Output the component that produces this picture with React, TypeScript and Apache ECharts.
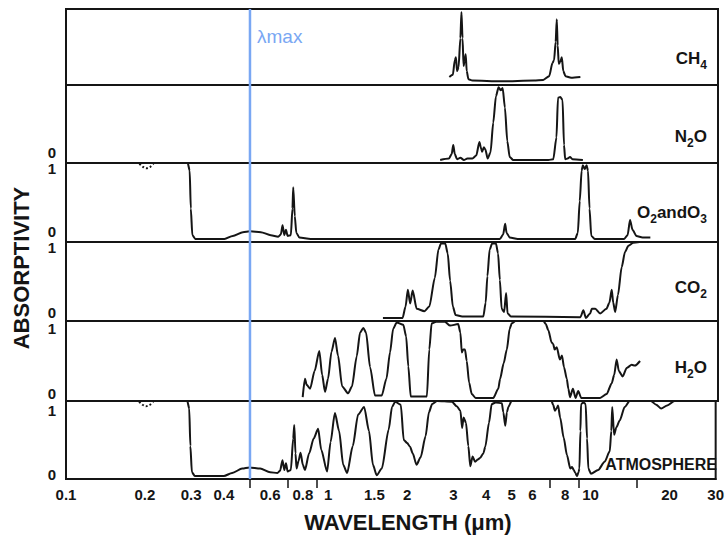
import { useEffect, useRef } from 'react';
import * as echarts from 'echarts';

// ---------- data (wavelength in µm, absorptivity 0..1) ----------
const X_MIN = 0.1;
const X_MAX = 30;
const LAMBDA_MAX = 0.5;
const TICK_LABELS = [0.1, 0.2, 0.3, 0.4, 0.6, 0.8, 1, 1.5, 2, 3, 4, 5, 6, 8, 10, 20, 30];
const MINOR_TICKS = [0.5, 0.7, 0.9, 7, 9, 15];
const Y_TICKS = ['0', '1'];

const CH4 = [
  [2.86, 0.07], [2.95, 0.1], [3.0, 0.3], [3.03, 0.34], [3.06, 0.15], [3.1, 0.2], [3.15, 0.6], [3.18, 0.96],
  [3.21, 0.6], [3.24, 0.22], [3.27, 0.3], [3.3, 0.38], [3.33, 0.15], [3.38, 0.04], [3.5, 0.02], [4.5, 0.01],
  [6.0, 0.02], [6.5, 0.03], [6.85, 0.08], [7.05, 0.26], [7.15, 0.3], [7.25, 0.55], [7.32, 0.86], [7.38, 0.5],
  [7.45, 0.25], [7.55, 0.28], [7.65, 0.34], [7.75, 0.15], [7.9, 0.08], [8.3, 0.06], [9.0, 0.07],
];
const N2O = [
  [2.64, 0.0], [2.85, 0.02], [2.92, 0.08], [2.96, 0.2], [3.0, 0.08], [3.06, 0.01], [3.15, 0.03], [3.25, 0.0],
  [3.35, 0.02], [3.5, 0.02], [3.62, 0.06], [3.72, 0.24], [3.78, 0.15], [3.81, 0.11], [3.87, 0.17], [3.92, 0.14],
  [4.0, 0.02], [4.1, 0.1], [4.2, 0.5], [4.3, 0.85], [4.4, 0.97], [4.48, 0.93], [4.56, 0.96], [4.65, 0.7],
  [4.75, 0.25], [4.85, 0.04], [5.0, 0.0], [6.8, 0.0], [7.1, 0.01], [7.3, 0.3], [7.4, 0.83], [7.55, 0.84],
  [7.7, 0.8], [7.8, 0.2], [7.88, 0.01], [8.05, 0.02], [8.22, 0.04], [8.4, 0.01], [9.2, 0.0],
];
const O2O3 = [
  [0.1, 1], [0.29, 1], [0.295, 0.9], [0.298, 0.4], [0.302, 0.05], [0.31, 0], [0.4, 0.0], [0.43, 0.04],
  [0.47, 0.09], [0.5, 0.1], [0.55, 0.09], [0.6, 0.05], [0.64, 0.03], [0.655, 0.06], [0.665, 0.18], [0.675, 0.05],
  [0.685, 0.12], [0.695, 0.04], [0.715, 0.05], [0.725, 0.4], [0.73, 0.68], [0.74, 0.3], [0.75, 0.08], [0.77, 0.02],
  [0.85, 0.0], [4.45, 0.0], [4.58, 0.06], [4.66, 0.2], [4.72, 0.08], [4.85, 0.02], [5.2, 0.0], [8.6, 0.0],
  [8.8, 0.08], [8.95, 0.5], [9.1, 0.9], [9.2, 0.97], [9.35, 0.92], [9.5, 0.97], [9.62, 0.9], [9.75, 0.4],
  [9.9, 0.04], [10.2, 0.0], [13.2, 0.0], [13.6, 0.05], [13.9, 0.25], [14.2, 0.12], [14.7, 0.04], [15.5, 0.02],
  [16.6, 0.02],
];
const CO2 = [
  [1.6, 0.0], [1.9, 0.0], [1.95, 0.15], [1.99, 0.37], [2.03, 0.19], [2.075, 0.36], [2.15, 0.12], [2.3, 0.09],
  [2.4, 0.15], [2.52, 0.53], [2.6, 0.9], [2.66, 0.98], [2.76, 0.98], [2.82, 0.85], [2.88, 0.49], [2.95, 0.15],
  [3.02, 0.04], [3.2, 0.02], [3.85, 0.02], [3.93, 0.2], [3.99, 0.55], [4.07, 0.9], [4.16, 0.98], [4.3, 0.98],
  [4.38, 0.85], [4.45, 0.5], [4.52, 0.12], [4.62, 0.08], [4.7, 0.33], [4.76, 0.06], [4.9, 0.02], [9.0, 0.01],
  [9.24, 0.1], [9.45, 0.0], [9.8, 0.06], [9.95, 0.12], [10.25, 0.12], [10.7, 0.06], [11.3, 0.12], [11.6, 0.2],
  [11.84, 0.37], [12.0, 0.2], [12.2, 0.08], [12.5, 0.3], [12.92, 0.67], [13.3, 0.87], [13.7, 0.95], [14.3, 0.99],
  [15.1, 1.0],
];
const H2O = [
  [0.793, 0.01], [0.809, 0.25], [0.821, 0.17], [0.846, 0.12], [0.88, 0.35], [0.917, 0.61], [0.94, 0.3],
  [0.964, 0.08], [0.99, 0.25], [1.02, 0.6], [1.052, 0.78], [1.08, 0.55], [1.12, 0.15], [1.18, 0.06], [1.22, 0.15],
  [1.272, 0.54], [1.31, 0.85], [1.348, 0.91], [1.38, 0.85], [1.43, 0.4], [1.493, 0.03], [1.583, 0.03],
  [1.65, 0.25], [1.702, 0.59], [1.75, 0.9], [1.805, 0.98], [1.912, 0.95], [1.96, 0.8], [1.998, 0.41],
  [2.04, 0.02], [2.35, 0.02], [2.4, 0.63], [2.45, 0.97], [2.55, 0.99], [2.75, 0.99], [2.88, 0.94], [3.09, 0.96],
  [3.15, 0.85], [3.19, 0.59], [3.23, 0.63], [3.28, 0.63], [3.33, 0.48], [3.4, 0.2], [3.48, 0.05], [3.6, 0.0],
  [4.2, 0.0], [4.39, 0.12], [4.46, 0.25], [4.6, 0.45], [4.73, 0.63], [4.85, 0.9], [4.94, 0.97], [5.1, 1.0],
  [6.51, 1.0], [6.65, 0.96], [6.8, 0.88], [7.0, 0.72], [7.1, 0.7], [7.18, 0.63], [7.32, 0.66], [7.52, 0.5],
  [7.66, 0.55], [7.8, 0.4], [7.99, 0.25], [8.1, 0.12], [8.22, 0.01], [8.43, 0.12], [8.63, 0.0], [8.83, 0.09],
  [9.07, 0.0], [10.69, 0.0], [11.32, 0.05], [11.84, 0.19], [12.1, 0.3], [12.36, 0.5], [12.6, 0.35],
  [13.03, 0.28], [13.5, 0.39], [14.1, 0.43], [14.5, 0.42], [15.17, 0.48],
];
const ATM = [
  [0.1, 1], [0.29, 1], [0.295, 0.9], [0.298, 0.4], [0.302, 0.05], [0.31, 0], [0.4, 0.0], [0.43, 0.04],
  [0.47, 0.1], [0.5, 0.115], [0.55, 0.1], [0.6, 0.05], [0.64, 0.04], [0.655, 0.07], [0.669, 0.21], [0.68, 0.08],
  [0.69, 0.17], [0.7, 0.06], [0.72, 0.08], [0.735, 0.5], [0.742, 0.68], [0.75, 0.3], [0.757, 0.1], [0.77, 0.2],
  [0.784, 0.31], [0.8, 0.15], [0.815, 0.08], [0.845, 0.3], [0.88, 0.5], [0.915, 0.63], [0.94, 0.35],
  [0.99, 0.06], [1.02, 0.45], [1.06, 0.84], [1.1, 0.6], [1.14, 0.15], [1.18, 0.04], [1.24, 0.4], [1.3, 0.82],
  [1.37, 0.92], [1.43, 0.6], [1.48, 0.15], [1.53, 0.01], [1.6, 0.1], [1.7, 0.62], [1.75, 0.92], [1.8, 0.99],
  [1.89, 0.95], [1.94, 0.48], [2.0, 0.44], [2.05, 0.39], [2.1, 0.3], [2.17, 0.15], [2.25, 0.25], [2.35, 0.53],
  [2.42, 0.85], [2.49, 0.96], [2.6, 1.0], [2.96, 0.99], [3.09, 0.93], [3.19, 0.87], [3.24, 0.64], [3.28, 0.78],
  [3.35, 0.71], [3.42, 0.4], [3.48, 0.13], [3.55, 0.26], [3.63, 0.19], [3.72, 0.22], [3.79, 0.24], [3.9, 0.3],
  [3.97, 0.39], [4.1, 0.71], [4.2, 0.96], [4.35, 0.98], [4.59, 0.97], [4.65, 0.85], [4.73, 0.67], [4.8, 0.85],
  [4.86, 0.92], [5.0, 1.0], [7.1, 1.0], [7.2, 0.95], [7.32, 0.87], [7.42, 0.9], [7.52, 0.94], [7.66, 0.78],
  [7.9, 0.51], [8.13, 0.28], [8.37, 0.1], [8.5, 0.12], [8.63, 0.08], [8.75, 0.04], [8.88, 0.0], [9.0, 0.05],
  [9.07, 0.1], [9.15, 0.6], [9.2, 0.96], [9.4, 0.98], [9.58, 0.96], [9.7, 0.5], [9.81, 0.1], [10.04, 0.03],
  [10.69, 0.08], [11.32, 0.19], [11.84, 0.33], [12.0, 0.6], [12.1, 0.92], [12.3, 0.55], [12.55, 0.65],
  [12.92, 0.74], [13.5, 0.92], [14.1, 1.0], [17.0, 1.0], [17.8, 0.95], [18.6, 0.9], [19.6, 0.94], [20.9, 1.0],
  [30, 1.0],
];
const DOTTED_BUMP = [[0.19, 0.99], [0.196, 0.95], [0.202, 0.93], [0.209, 0.95], [0.215, 0.99]];

const PANELS = [CH4, N2O, O2O3, CO2, H2O, ATM];
const PANEL_LABELS = [
  '{m|CH}{s|4}',
  '{m|N}{s|2}{m|O}',
  '{m|O}{s|2}{m|and}{m|O}{s|3}',
  '{m|CO}{s|2}',
  '{m|H}{s|2}{m|O}',
  '{a|ATMOSPHERE}',
];
const X_NAME = 'WAVELENGTH (μm)';
const Y_NAME = 'ABSORPTIVITY';
const LMAX_LABEL = 'λmax';

// ---------- layout ----------
const FONT = '"Liberation Sans", Arial, Helvetica, sans-serif';
const INK = '#151515';
const BLUE = '#79a7f3';
const TOPS = [9, 85, 163, 242, 321, 401];
const HEIGHTS = [76, 78, 79, 79, 80, 78];
const LEFT = 66;
const RIGHT = 9;
const lg = (v: number) => Math.log10(v);

export default function App() {
  const ref = useRef<HTMLDivElement>(null);
  useEffect(() => {
    if (!ref.current) return;
    const chart = echarts.init(ref.current, undefined, { renderer: 'svg' });

    const grids: any[] = TOPS.map((t, i) => ({
      left: LEFT, right: RIGHT, top: t, height: HEIGHTS[i],
      show: true, borderColor: INK, borderWidth: 2, backgroundColor: 'transparent',
    }));
    grids.push({ left: LEFT, right: RIGHT, top: TOPS[0], height: TOPS[5] + HEIGHTS[5] - TOPS[0], show: false });

    const xAxes: any[] = grids.map((_, i) => {
      const isBottom = i === 5;
      return {
        type: 'value', gridIndex: i, min: lg(X_MIN), max: lg(X_MAX),
        show: isBottom,
        splitLine: { show: false },
        axisLine: { show: isBottom, onZero: false, lineStyle: { color: INK, width: 2 } },
        axisTick: isBottom
          ? { show: true, customValues: MINOR_TICKS.map(lg), length: 9, inside: false, lineStyle: { color: INK, width: 1.5 } }
          : { show: false },
        axisLabel: isBottom
          ? {
              show: true,
              customValues: TICK_LABELS.map(lg),
              formatter: (v: number) => {
                const t = TICK_LABELS.find((x) => Math.abs(lg(x) - v) < 1e-6);
                return t === undefined ? '' : String(t);
              },
              color: INK, fontSize: 15, fontWeight: 'bold', fontFamily: FONT, margin: 8,
            }
          : { show: false },
      };
    });
    const yAxes: any[] = grids.map((_, i) => ({
      type: 'value', gridIndex: i, min: i === 6 ? 0 : -0.04, max: 1, show: false, splitLine: { show: false },
    }));

    const series: any[] = PANELS.map((d, i) => ({
      type: 'line', xAxisIndex: i, yAxisIndex: i, showSymbol: false, smooth: 0.25, smoothMonotone: 'x',
      data: d.map(([l, a]) => [lg(l), a]), clip: false,
      lineStyle: { color: INK, width: 2 }, z: 3,
    }));
    [2, 5].forEach((i) => series.push({
      type: 'line', xAxisIndex: i, yAxisIndex: i, showSymbol: false, smooth: 0.3,
      data: DOTTED_BUMP.map(([l, a]) => [lg(l), a]),
      lineStyle: { color: INK, width: 2, type: 'dotted' }, z: 3,
    }));
    series.push({
      type: 'line', xAxisIndex: 6, yAxisIndex: 6, showSymbol: false,
      data: [[lg(LAMBDA_MAX), 0], [lg(LAMBDA_MAX), 1]],
      lineStyle: { color: BLUE, width: 2.5 }, z: 10,
    });

    const txt = (x: number, y: number, text: string, extra: any = {}, rotation = 0) => ({
      type: 'text', x, y, rotation, z: 20,
      style: {
        text, fill: INK, fontFamily: FONT, fontWeight: 'bold', fontSize: 15,
        align: 'center', textAlign: 'center', verticalAlign: 'middle', textVerticalAlign: 'middle', ...extra,
      },
    });

    const rich = {
      m: { fontSize: 17, fontWeight: 'bold', fontFamily: FONT, color: INK, lineHeight: 20, verticalAlign: 'middle' },
      s: { fontSize: 12, fontWeight: 'bold', fontFamily: FONT, color: INK, verticalAlign: 'top', padding: [14, 0, 0, 0] },
      a: { fontSize: 16, fontWeight: 'bold', fontFamily: FONT, color: INK, lineHeight: 20 },
    };
    const labelPos = [[707, 58], [707, 136], [707, 212], [707, 287], [707, 367], [717, 464]];

    const graphic: any[] = [
      txt(21, 268, Y_NAME, { fontSize: 22 }, Math.PI / 2),
      txt(408, 522, X_NAME, { fontSize: 22 }),
      txt(257, 36, LMAX_LABEL, { fill: BLUE, fontWeight: 'normal', fontSize: 19, align: 'left', textAlign: 'left' }),
      ...PANEL_LABELS.map((t, i) =>
        txt(labelPos[i][0], labelPos[i][1], t, { rich, align: 'right', textAlign: 'right' })),
      // y tick labels near panel boundaries
      txt(52, 152, Y_TICKS[0]), txt(52, 168, Y_TICKS[1]),
      txt(52, 231, Y_TICKS[0]), txt(52, 247, Y_TICKS[1]),
      txt(52, 312, Y_TICKS[0]), txt(52, 328, Y_TICKS[1]),
      txt(52, 393, Y_TICKS[0]), txt(52, 410, Y_TICKS[1]),
      txt(52, 474, Y_TICKS[0]),
    ];

    chart.setOption({
      animation: false,
      backgroundColor: '#ffffff',
      grid: grids,
      xAxis: xAxes,
      yAxis: yAxes,
      series,
      graphic,
    });
    return () => chart.dispose();
  }, []);

  return (
    <div
      ref={ref}
      style={{ position: 'absolute', left: 0, top: 0, width: 727, height: 537, background: '#fff' }}
    />
  );
}
